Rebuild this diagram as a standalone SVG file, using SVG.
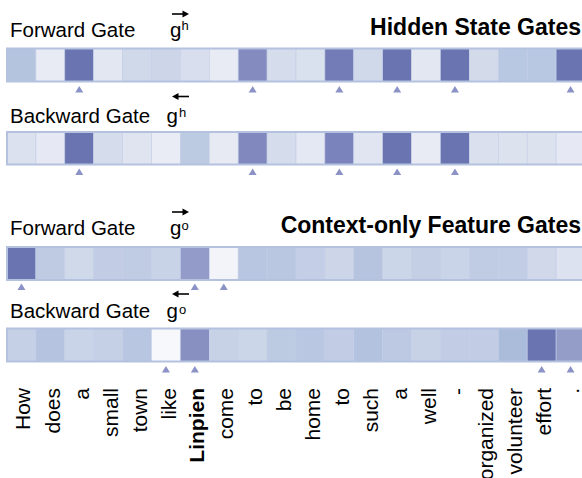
<svg xmlns="http://www.w3.org/2000/svg" width="582" height="478" viewBox="0 0 582 478">
<style>
text{font-family:"Liberation Sans",Arial,sans-serif;fill:#000}
.lbl{font-size:20.5px}
.hdr{font-size:23px;font-weight:bold}
.sup{font-size:13px}
.w{font-size:21px}
.frame{fill:none;stroke:#b4c2df;stroke-width:2}
.tri{fill:#8a92c6}
.arr{stroke:#000;stroke-width:1.6;fill:none}
.ah{fill:#000}
rect.c{stroke:#c3cde6;stroke-width:0.6}
</style>
<rect width="582" height="478" fill="#fff"/>

<g id="hidden-forward">
<text class="lbl" x="10" y="36.5">Forward Gate</text>
<text class="lbl" x="170" y="36.5">g</text><text class="sup" x="181.5" y="30">h</text>
<path class="arr" d="M172 14H185"/><polygon class="ah" points="189,14 182.5,10.5 182.5,17.5"/>
<text class="hdr" x="581" y="35" text-anchor="end">Hidden State Gates</text>
<g>
<rect class="c" x="7" y="48.5" width="28.9" height="33" fill="#b4c3de"/>
<rect class="c" x="35.9" y="48.5" width="28.9" height="33" fill="#e8ebf4"/>
<rect class="c" x="64.8" y="48.5" width="28.9" height="33" fill="#6a74b0"/>
<rect class="c" x="93.7" y="48.5" width="28.9" height="33" fill="#e3e7f1"/>
<rect class="c" x="122.6" y="48.5" width="28.9" height="33" fill="#cfd9e9"/>
<rect class="c" x="151.5" y="48.5" width="28.9" height="33" fill="#cdd6e8"/>
<rect class="c" x="180.4" y="48.5" width="28.9" height="33" fill="#d8deee"/>
<rect class="c" x="209.3" y="48.5" width="28.9" height="33" fill="#e8ebf4"/>
<rect class="c" x="238.2" y="48.5" width="28.9" height="33" fill="#838bbf"/>
<rect class="c" x="267.1" y="48.5" width="28.9" height="33" fill="#d5dcec"/>
<rect class="c" x="296" y="48.5" width="28.9" height="33" fill="#d9e0ee"/>
<rect class="c" x="324.9" y="48.5" width="28.9" height="33" fill="#737cb6"/>
<rect class="c" x="353.8" y="48.5" width="28.9" height="33" fill="#d0d9ea"/>
<rect class="c" x="382.7" y="48.5" width="28.9" height="33" fill="#6a74b0"/>
<rect class="c" x="411.6" y="48.5" width="28.9" height="33" fill="#e3e7f1"/>
<rect class="c" x="440.5" y="48.5" width="28.9" height="33" fill="#6a74b0"/>
<rect class="c" x="469.4" y="48.5" width="28.9" height="33" fill="#d3dbeb"/>
<rect class="c" x="498.3" y="48.5" width="28.9" height="33" fill="#b9c8e2"/>
<rect class="c" x="527.2" y="48.5" width="28.9" height="33" fill="#b9c8e2"/>
<rect class="c" x="556.1" y="48.5" width="28.9" height="33" fill="#6a74b0"/>
<rect class="frame" x="7" y="48.5" width="578" height="33"/>
</g>
<g>
<polygon class="tri" points="79.25,86 75.25,92.5 83.25,92.5"/>
<polygon class="tri" points="252.65,86 248.65,92.5 256.65,92.5"/>
<polygon class="tri" points="339.35,86 335.35,92.5 343.35,92.5"/>
<polygon class="tri" points="397.15,86 393.15,92.5 401.15,92.5"/>
<polygon class="tri" points="454.95,86 450.95,92.5 458.95,92.5"/>
<polygon class="tri" points="570.55,86 566.55,92.5 574.55,92.5"/>
</g>
</g>

<g id="hidden-backward">
<text class="lbl" x="10" y="123">Backward Gate</text>
<text class="lbl" x="166.5" y="123">g</text><text class="sup" x="179" y="116.5">h</text>
<path class="arr" d="M176 96.5H189"/><polygon class="ah" points="172,96.5 178.5,93 178.5,100"/>
<g>
<rect class="c" x="7" y="132" width="28.9" height="32.5" fill="#dbe1ef"/>
<rect class="c" x="35.9" y="132" width="28.9" height="32.5" fill="#e6e9f3"/>
<rect class="c" x="64.8" y="132" width="28.9" height="32.5" fill="#6a74b0"/>
<rect class="c" x="93.7" y="132" width="28.9" height="32.5" fill="#d5dcec"/>
<rect class="c" x="122.6" y="132" width="28.9" height="32.5" fill="#dfe4f0"/>
<rect class="c" x="151.5" y="132" width="28.9" height="32.5" fill="#e9ecf5"/>
<rect class="c" x="180.4" y="132" width="28.9" height="32.5" fill="#bccae2"/>
<rect class="c" x="209.3" y="132" width="28.9" height="32.5" fill="#e7eaf3"/>
<rect class="c" x="238.2" y="132" width="28.9" height="32.5" fill="#8088bd"/>
<rect class="c" x="267.1" y="132" width="28.9" height="32.5" fill="#d5dcec"/>
<rect class="c" x="296" y="132" width="28.9" height="32.5" fill="#e4e8f2"/>
<rect class="c" x="324.9" y="132" width="28.9" height="32.5" fill="#7a83bb"/>
<rect class="c" x="353.8" y="132" width="28.9" height="32.5" fill="#e0e5f1"/>
<rect class="c" x="382.7" y="132" width="28.9" height="32.5" fill="#6a74b0"/>
<rect class="c" x="411.6" y="132" width="28.9" height="32.5" fill="#e8ebf4"/>
<rect class="c" x="440.5" y="132" width="28.9" height="32.5" fill="#6a74b0"/>
<rect class="c" x="469.4" y="132" width="28.9" height="32.5" fill="#dae0ee"/>
<rect class="c" x="498.3" y="132" width="28.9" height="32.5" fill="#dde2ef"/>
<rect class="c" x="527.2" y="132" width="28.9" height="32.5" fill="#dde2ef"/>
<rect class="c" x="556.1" y="132" width="28.9" height="32.5" fill="#e6e9f3"/>
<rect class="frame" x="7" y="132" width="578" height="32.5"/>
</g>
<g>
<polygon class="tri" points="79.25,168.5 75.25,175 83.25,175"/>
<polygon class="tri" points="252.65,168.5 248.65,175 256.65,175"/>
<polygon class="tri" points="339.35,168.5 335.35,175 343.35,175"/>
<polygon class="tri" points="397.15,168.5 393.15,175 401.15,175"/>
<polygon class="tri" points="454.95,168.5 450.95,175 458.95,175"/>
</g>
</g>

<g id="context-forward">
<text class="lbl" x="10" y="235">Forward Gate</text>
<text class="lbl" x="170" y="235">g</text><text class="sup" x="181.5" y="230">o</text>
<path class="arr" d="M172 212H185"/><polygon class="ah" points="189,212 182.5,208.5 182.5,215.5"/>
<text class="hdr" x="581" y="233" text-anchor="end">Context-only Feature Gates</text>
<g>
<rect class="c" x="7" y="247" width="28.9" height="33" fill="#6a74b0"/>
<rect class="c" x="35.9" y="247" width="28.9" height="33" fill="#bfcbe3"/>
<rect class="c" x="64.8" y="247" width="28.9" height="33" fill="#d0d9ea"/>
<rect class="c" x="93.7" y="247" width="28.9" height="33" fill="#c2cde5"/>
<rect class="c" x="122.6" y="247" width="28.9" height="33" fill="#c0cbe4"/>
<rect class="c" x="151.5" y="247" width="28.9" height="33" fill="#c9d3e8"/>
<rect class="c" x="180.4" y="247" width="28.9" height="33" fill="#939bc8"/>
<rect class="c" x="209.3" y="247" width="28.9" height="33" fill="#f3f4f9"/>
<rect class="c" x="238.2" y="247" width="28.9" height="33" fill="#b9c6e1"/>
<rect class="c" x="267.1" y="247" width="28.9" height="33" fill="#bac7e1"/>
<rect class="c" x="296" y="247" width="28.9" height="33" fill="#c4cee6"/>
<rect class="c" x="324.9" y="247" width="28.9" height="33" fill="#cdd5e9"/>
<rect class="c" x="353.8" y="247" width="28.9" height="33" fill="#b6c4e0"/>
<rect class="c" x="382.7" y="247" width="28.9" height="33" fill="#ccd6e9"/>
<rect class="c" x="411.6" y="247" width="28.9" height="33" fill="#c4cfe6"/>
<rect class="c" x="440.5" y="247" width="28.9" height="33" fill="#cad4e8"/>
<rect class="c" x="469.4" y="247" width="28.9" height="33" fill="#c0cbe4"/>
<rect class="c" x="498.3" y="247" width="28.9" height="33" fill="#c1cce5"/>
<rect class="c" x="527.2" y="247" width="28.9" height="33" fill="#d0d8ea"/>
<rect class="c" x="556.1" y="247" width="28.9" height="33" fill="#dce2ef"/>
<rect class="frame" x="7" y="247" width="578" height="33"/>
</g>
<g>
<polygon class="tri" points="21.45,283.5 17.45,290 25.45,290"/>
<polygon class="tri" points="194.85,283.5 190.85,290 198.85,290"/>
<polygon class="tri" points="223.75,283.5 219.75,290 227.75,290"/>
</g>
</g>

<g id="context-backward">
<text class="lbl" x="10" y="318">Backward Gate</text>
<text class="lbl" x="166.5" y="318">g</text><text class="sup" x="179" y="313.5">o</text>
<path class="arr" d="M176 294H189"/><polygon class="ah" points="172,294 178.5,290.5 178.5,297.5"/>
<g>
<rect class="c" x="7" y="328.5" width="28.9" height="33" fill="#c5d0e7"/>
<rect class="c" x="35.9" y="328.5" width="28.9" height="33" fill="#b5c3e0"/>
<rect class="c" x="64.8" y="328.5" width="28.9" height="33" fill="#cad4e8"/>
<rect class="c" x="93.7" y="328.5" width="28.9" height="33" fill="#c5d0e7"/>
<rect class="c" x="122.6" y="328.5" width="28.9" height="33" fill="#b9c6e1"/>
<rect class="c" x="151.5" y="328.5" width="28.9" height="33" fill="#f7f8fb"/>
<rect class="c" x="180.4" y="328.5" width="28.9" height="33" fill="#8890c2"/>
<rect class="c" x="209.3" y="328.5" width="28.9" height="33" fill="#c8d2e7"/>
<rect class="c" x="238.2" y="328.5" width="28.9" height="33" fill="#ccd6e9"/>
<rect class="c" x="267.1" y="328.5" width="28.9" height="33" fill="#bccae2"/>
<rect class="c" x="296" y="328.5" width="28.9" height="33" fill="#bac7e2"/>
<rect class="c" x="324.9" y="328.5" width="28.9" height="33" fill="#c2cde5"/>
<rect class="c" x="353.8" y="328.5" width="28.9" height="33" fill="#b3c2df"/>
<rect class="c" x="382.7" y="328.5" width="28.9" height="33" fill="#bdc9e3"/>
<rect class="c" x="411.6" y="328.5" width="28.9" height="33" fill="#c8d2e7"/>
<rect class="c" x="440.5" y="328.5" width="28.9" height="33" fill="#c2cde5"/>
<rect class="c" x="469.4" y="328.5" width="28.9" height="33" fill="#c2cde5"/>
<rect class="c" x="498.3" y="328.5" width="28.9" height="33" fill="#abbcdb"/>
<rect class="c" x="527.2" y="328.5" width="28.9" height="33" fill="#6a74b0"/>
<rect class="c" x="556.1" y="328.5" width="28.9" height="33" fill="#949cc8"/>
<rect class="frame" x="7" y="328.5" width="578" height="33"/>
</g>
<g>
<polygon class="tri" points="165.95,366 161.95,372.5 169.95,372.5"/>
<polygon class="tri" points="194.85,366 190.85,372.5 198.85,372.5"/>
<polygon class="tri" points="541.65,366 537.65,372.5 545.65,372.5"/>
<polygon class="tri" points="570.55,366 566.55,372.5 574.55,372.5"/>
</g>
</g>

<g id="words">
<text class="w" text-anchor="end" transform="translate(30,388) rotate(-90)">How</text>
<text class="w" text-anchor="end" transform="translate(59.9,388) rotate(-90)">does</text>
<text class="w" text-anchor="end" transform="translate(88.8,388) rotate(-90)">a</text>
<text class="w" text-anchor="end" transform="translate(117.7,388) rotate(-90)">small</text>
<text class="w" text-anchor="end" transform="translate(146.6,388) rotate(-90)">town</text>
<text class="w" text-anchor="end" transform="translate(175.5,388) rotate(-90)">like</text>
<text class="w" text-anchor="end" font-weight="bold" transform="translate(204.4,388) rotate(-90)">Linpien</text>
<text class="w" text-anchor="end" transform="translate(233.3,388) rotate(-90)">come</text>
<text class="w" text-anchor="end" transform="translate(262.2,388) rotate(-90)">to</text>
<text class="w" text-anchor="end" transform="translate(291.1,388) rotate(-90)">be</text>
<text class="w" text-anchor="end" transform="translate(320,388) rotate(-90)">home</text>
<text class="w" text-anchor="end" transform="translate(348.9,388) rotate(-90)">to</text>
<text class="w" text-anchor="end" transform="translate(377.8,388) rotate(-90)">such</text>
<text class="w" text-anchor="end" transform="translate(406.7,388) rotate(-90)">a</text>
<text class="w" text-anchor="end" transform="translate(435.6,388) rotate(-90)">well</text>
<text class="w" text-anchor="end" transform="translate(464.5,388) rotate(-90)">-</text>
<text class="w" text-anchor="end" transform="translate(493.4,388) rotate(-90)">organized</text>
<text class="w" text-anchor="end" transform="translate(522.3,388) rotate(-90)">volunteer</text>
<text class="w" text-anchor="end" transform="translate(551.2,388) rotate(-90)">effort</text>
<text class="w" text-anchor="end" transform="translate(578.5,388) rotate(-90)">.</text>
</g>
</svg>
